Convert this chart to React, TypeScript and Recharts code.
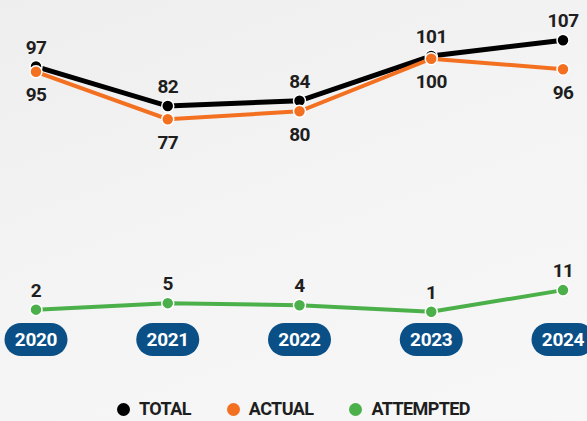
import React from 'react';
import { LineChart, Line, XAxis, YAxis, LabelList } from 'recharts';

const years = ['2020', '2021', '2022', '2023', '2024'];
const total = [97, 82, 84, 101, 107];
const actual = [95, 77, 80, 100, 96];
const attempted = [2, 5, 4, 1, 11];

const series = [
  { key: 'total', name: 'TOTAL', color: '#000000' },
  { key: 'actual', name: 'ACTUAL', color: '#f37021' },
  { key: 'attempted', name: 'ATTEMPTED', color: '#4cb04a' },
];

const data = years.map((year, i) => ({
  year,
  total: total[i],
  actual: actual[i],
  attempted: attempted[i],
}));

const FONT = "Roboto, 'DejaVu Sans Condensed', sans-serif";

// year labels drawn as blue pills
const YearTick = (props: any) => {
  const { x, y, payload } = props;
  return (
    <g>
      <rect x={x - 31.5} y={y + 1} width={63} height={33} rx={16.5} fill="#0b4f87" />
      <text
        x={x}
        y={y + 24}
        textAnchor="middle"
        fill="#fff"
        fontSize={19}
        fontWeight={700}
        letterSpacing={-0.3}
        fontFamily={FONT}
      >
        {payload.value}
      </text>
    </g>
  );
};

const labelStyle = { fill: '#1e1e1e', fontSize: 19, fontWeight: 700, fontFamily: FONT, letterSpacing: -0.6 };

const App = () => {
  return (
    <div
      style={{
        position: 'absolute',
        left: 0,
        top: 0,
        width: 587,
        height: 421,
        overflow: 'hidden',
        background: 'linear-gradient(160deg, #eeeeee 0%, #f4f4f4 50%, #f7f7f7 100%)',
      }}
    >
      <LineChart width={587} height={421} data={data} margin={{ top: 6, right: 24, bottom: 59, left: 36 }}>
        <XAxis
          dataKey="year"
          axisLine={false}
          tickLine={false}
          tickSize={0}
          tickMargin={0}
          height={40}
          interval={0}
          tick={<YearTick />}
        />
        <YAxis yAxisId="main" hide domain={[0, 120]} />
        <YAxis yAxisId="att" hide domain={[-3.7, 142]} />
        <Line
          yAxisId="main"
          dataKey="total"
          stroke={series[0].color}
          strokeWidth={5}
          dot={{ r: 6, fill: series[0].color, stroke: '#fff', strokeWidth: 1.5 }}
          isAnimationActive={false}
        >
          <LabelList dataKey="total" position="top" offset={13} {...labelStyle} />
        </Line>
        <Line
          yAxisId="main"
          dataKey="actual"
          stroke={series[1].color}
          strokeWidth={4}
          dot={{ r: 6, fill: series[1].color, stroke: '#fff', strokeWidth: 1.5 }}
          isAnimationActive={false}
        >
          <LabelList dataKey="actual" position="bottom" offset={16} {...labelStyle} />
        </Line>
        <Line
          yAxisId="att"
          dataKey="attempted"
          stroke={series[2].color}
          strokeWidth={4}
          dot={{ r: 6, fill: series[2].color, stroke: '#fff', strokeWidth: 1.5 }}
          isAnimationActive={false}
        >
          <LabelList dataKey="attempted" position="top" offset={13} {...labelStyle} />
        </Line>
      </LineChart>
      <div
        style={{
          position: 'absolute',
          left: 0,
          top: 398,
          width: 587,
          display: 'flex',
          justifyContent: 'center',
          gap: 36,
          fontFamily: FONT,
          fontWeight: 700,
          fontSize: 18,
          letterSpacing: -0.6,
          color: '#1e1e1e',
          lineHeight: '22px',
        }}
      >
        {series.map((s) => (
          <div key={s.key} style={{ display: 'flex', alignItems: 'center', gap: 9 }}>
            <span style={{ width: 13, height: 13, borderRadius: '50%', background: s.color, display: 'inline-block' }} />
            <span>{s.name}</span>
          </div>
        ))}
      </div>
    </div>
  );
};

export default App;
